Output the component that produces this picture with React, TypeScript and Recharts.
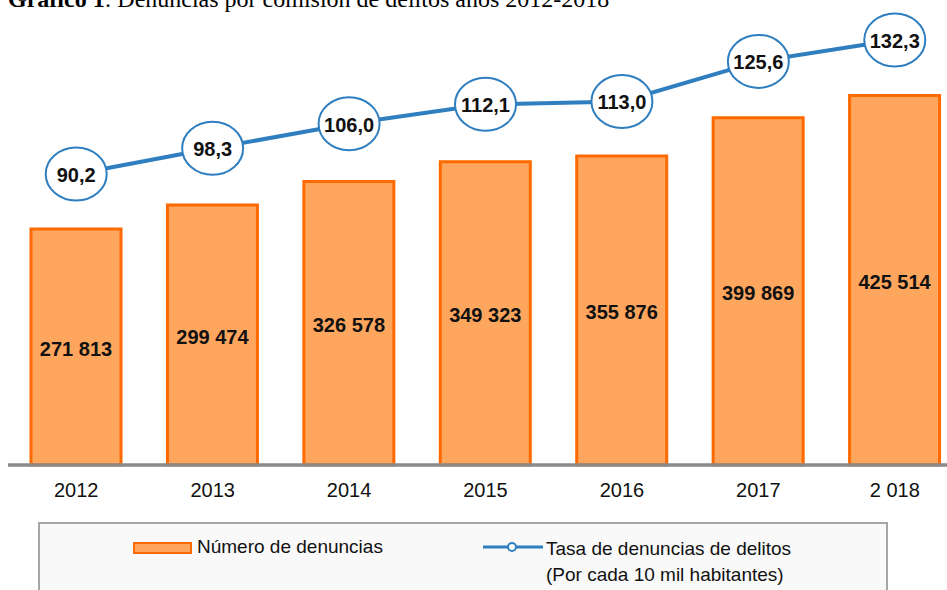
import React from 'react'
import { ComposedChart, Bar, Line, XAxis, YAxis, LabelList, ReferenceLine } from 'recharts'

const years = ['2012', '2013', '2014', '2015', '2016', '2017', '2 018']
const denuncias = [271813, 299474, 326578, 349323, 355876, 399869, 425514]
const tasa = [90.2, 98.3, 106.0, 112.1, 113.0, 125.6, 132.3]

const rows = years.map((year, i) => ({ year, n: denuncias[i], t: tasa[i] }))

const FONT = '"Liberation Sans", Arial, sans-serif'
const BAR_FILL = '#ffa65e'
const BAR_STROKE = '#ff6a00'
const BLUE = '#2f7ebf'
const AXIS_GRAY = '#8a8a8a'

const fmtThousands = (v: number) => String(v).replace(/\B(?=(\d{3})+(?!\d))/g, ' ')
const fmtRate = (v: number) => v.toFixed(1).replace('.', ',')

// ellipse "bubble" drawn on each point of the rate line
const Bubble = (props: any) => {
  const { cx, cy, payload, index } = props
  if (cx == null || cy == null) return null
  return (
    <g key={`bubble-${index}`}>
      <ellipse cx={cx} cy={cy} rx={30.5} ry={26.5} fill="#fff" stroke={BLUE} strokeWidth={2} />
      <text
        x={cx}
        y={cy + 1}
        textAnchor="middle"
        dominantBaseline="central"
        fontFamily={FONT}
        fontWeight="bold"
        fontSize={20}
        fill="#111"
      >
        {fmtRate(payload.t)}
      </text>
    </g>
  )
}

const BarValue = (props: any) => {
  const { x, y, width, height, value } = props
  return (
    <text
      x={Number(x) + Number(width) / 2}
      y={Number(y) + Number(height) / 2 + 2}
      textAnchor="middle"
      dominantBaseline="central"
      fontFamily={FONT}
      fontWeight="bold"
      fontSize={20}
      fill="#111"
    >
      {fmtThousands(value)}
    </text>
  )
}

const YearTick = (props: any) => {
  const { x, y, payload } = props
  return (
    <text x={x} y={y + 24} textAnchor="middle" fontFamily={FONT} fontSize={20} fill="#111">
      {payload.value}
    </text>
  )
}

export default function App() {
  return (
    <div
      style={{
        position: 'absolute',
        left: 0,
        top: 0,
        width: 947,
        height: 590,
        overflow: 'hidden',
        background: '#fff',
      }}
    >
      {/* title, cut off at the top like in the source */}
      <div
        style={{
          position: 'absolute',
          left: 8,
          top: -13,
          fontFamily: '"Liberation Serif", "Times New Roman", serif',
          fontSize: 24,
          lineHeight: '24px',
          whiteSpace: 'nowrap',
          color: '#000',
        }}
      >
        <b>Gráfico 1</b>: Denuncias por comisión de delitos años 2012-2018
      </div>

      <div style={{ position: 'absolute', left: 0, top: 0 }}>
        <ComposedChart
          width={975}
          height={590}
          data={rows}
          margin={{ top: 20, right: 12, left: 8, bottom: 95 }}
        >
          <YAxis yAxisId="n" hide domain={[0, 512400]} />
          <YAxis yAxisId="t" hide orientation="right" domain={[-1.2, 138.6]} />
          <Bar
            yAxisId="n"
            dataKey="n"
            barSize={90}
            fill={BAR_FILL}
            stroke={BAR_STROKE}
            strokeWidth={3}
            isAnimationActive={false}
          >
            <LabelList dataKey="n" content={<BarValue />} />
          </Bar>
          <XAxis
            dataKey="year"
            height={30}
            axisLine={{ stroke: AXIS_GRAY, strokeWidth: 3 }}
            tickLine={false}
            tick={<YearTick />}
            interval={0}
          />
          <ReferenceLine yAxisId="n" y={0} stroke={AXIS_GRAY} strokeWidth={3} />
          <Line
            yAxisId="t"
            type="linear"
            dataKey="t"
            stroke={BLUE}
            strokeWidth={4}
            dot={Bubble}
            activeDot={false}
            isAnimationActive={false}
          />
        </ComposedChart>
      </div>

      {/* legend box */}
      <div
        style={{
          position: 'absolute',
          left: 38,
          top: 522,
          width: 846,
          height: 90,
          border: '2px solid #a6a6a6',
          background: '#f9f9f9',
          fontFamily: FONT,
          fontSize: 19,
          color: '#111',
        }}
      >
        <div style={{ position: 'absolute', left: 93, top: 18, width: 55, height: 8, border: `2px solid ${BAR_STROKE}`, background: BAR_FILL }} />
        <div style={{ position: 'absolute', left: 157, top: 12, lineHeight: '22px', whiteSpace: 'nowrap' }}>Número de denuncias</div>
        <svg style={{ position: 'absolute', left: 442, top: 15 }} width={62} height={16}>
          <line x1={1} y1={8} x2={61} y2={8} stroke={BLUE} strokeWidth={3} />
          <circle cx={30} cy={8} r={4} fill="#fff" stroke={BLUE} strokeWidth={2} />
        </svg>
        <div style={{ position: 'absolute', left: 506, top: 12, lineHeight: '26px', whiteSpace: 'nowrap' }}>
          Tasa de denuncias de delitos
          <br />
          (Por cada 10 mil habitantes)
        </div>
      </div>
    </div>
  )
}
